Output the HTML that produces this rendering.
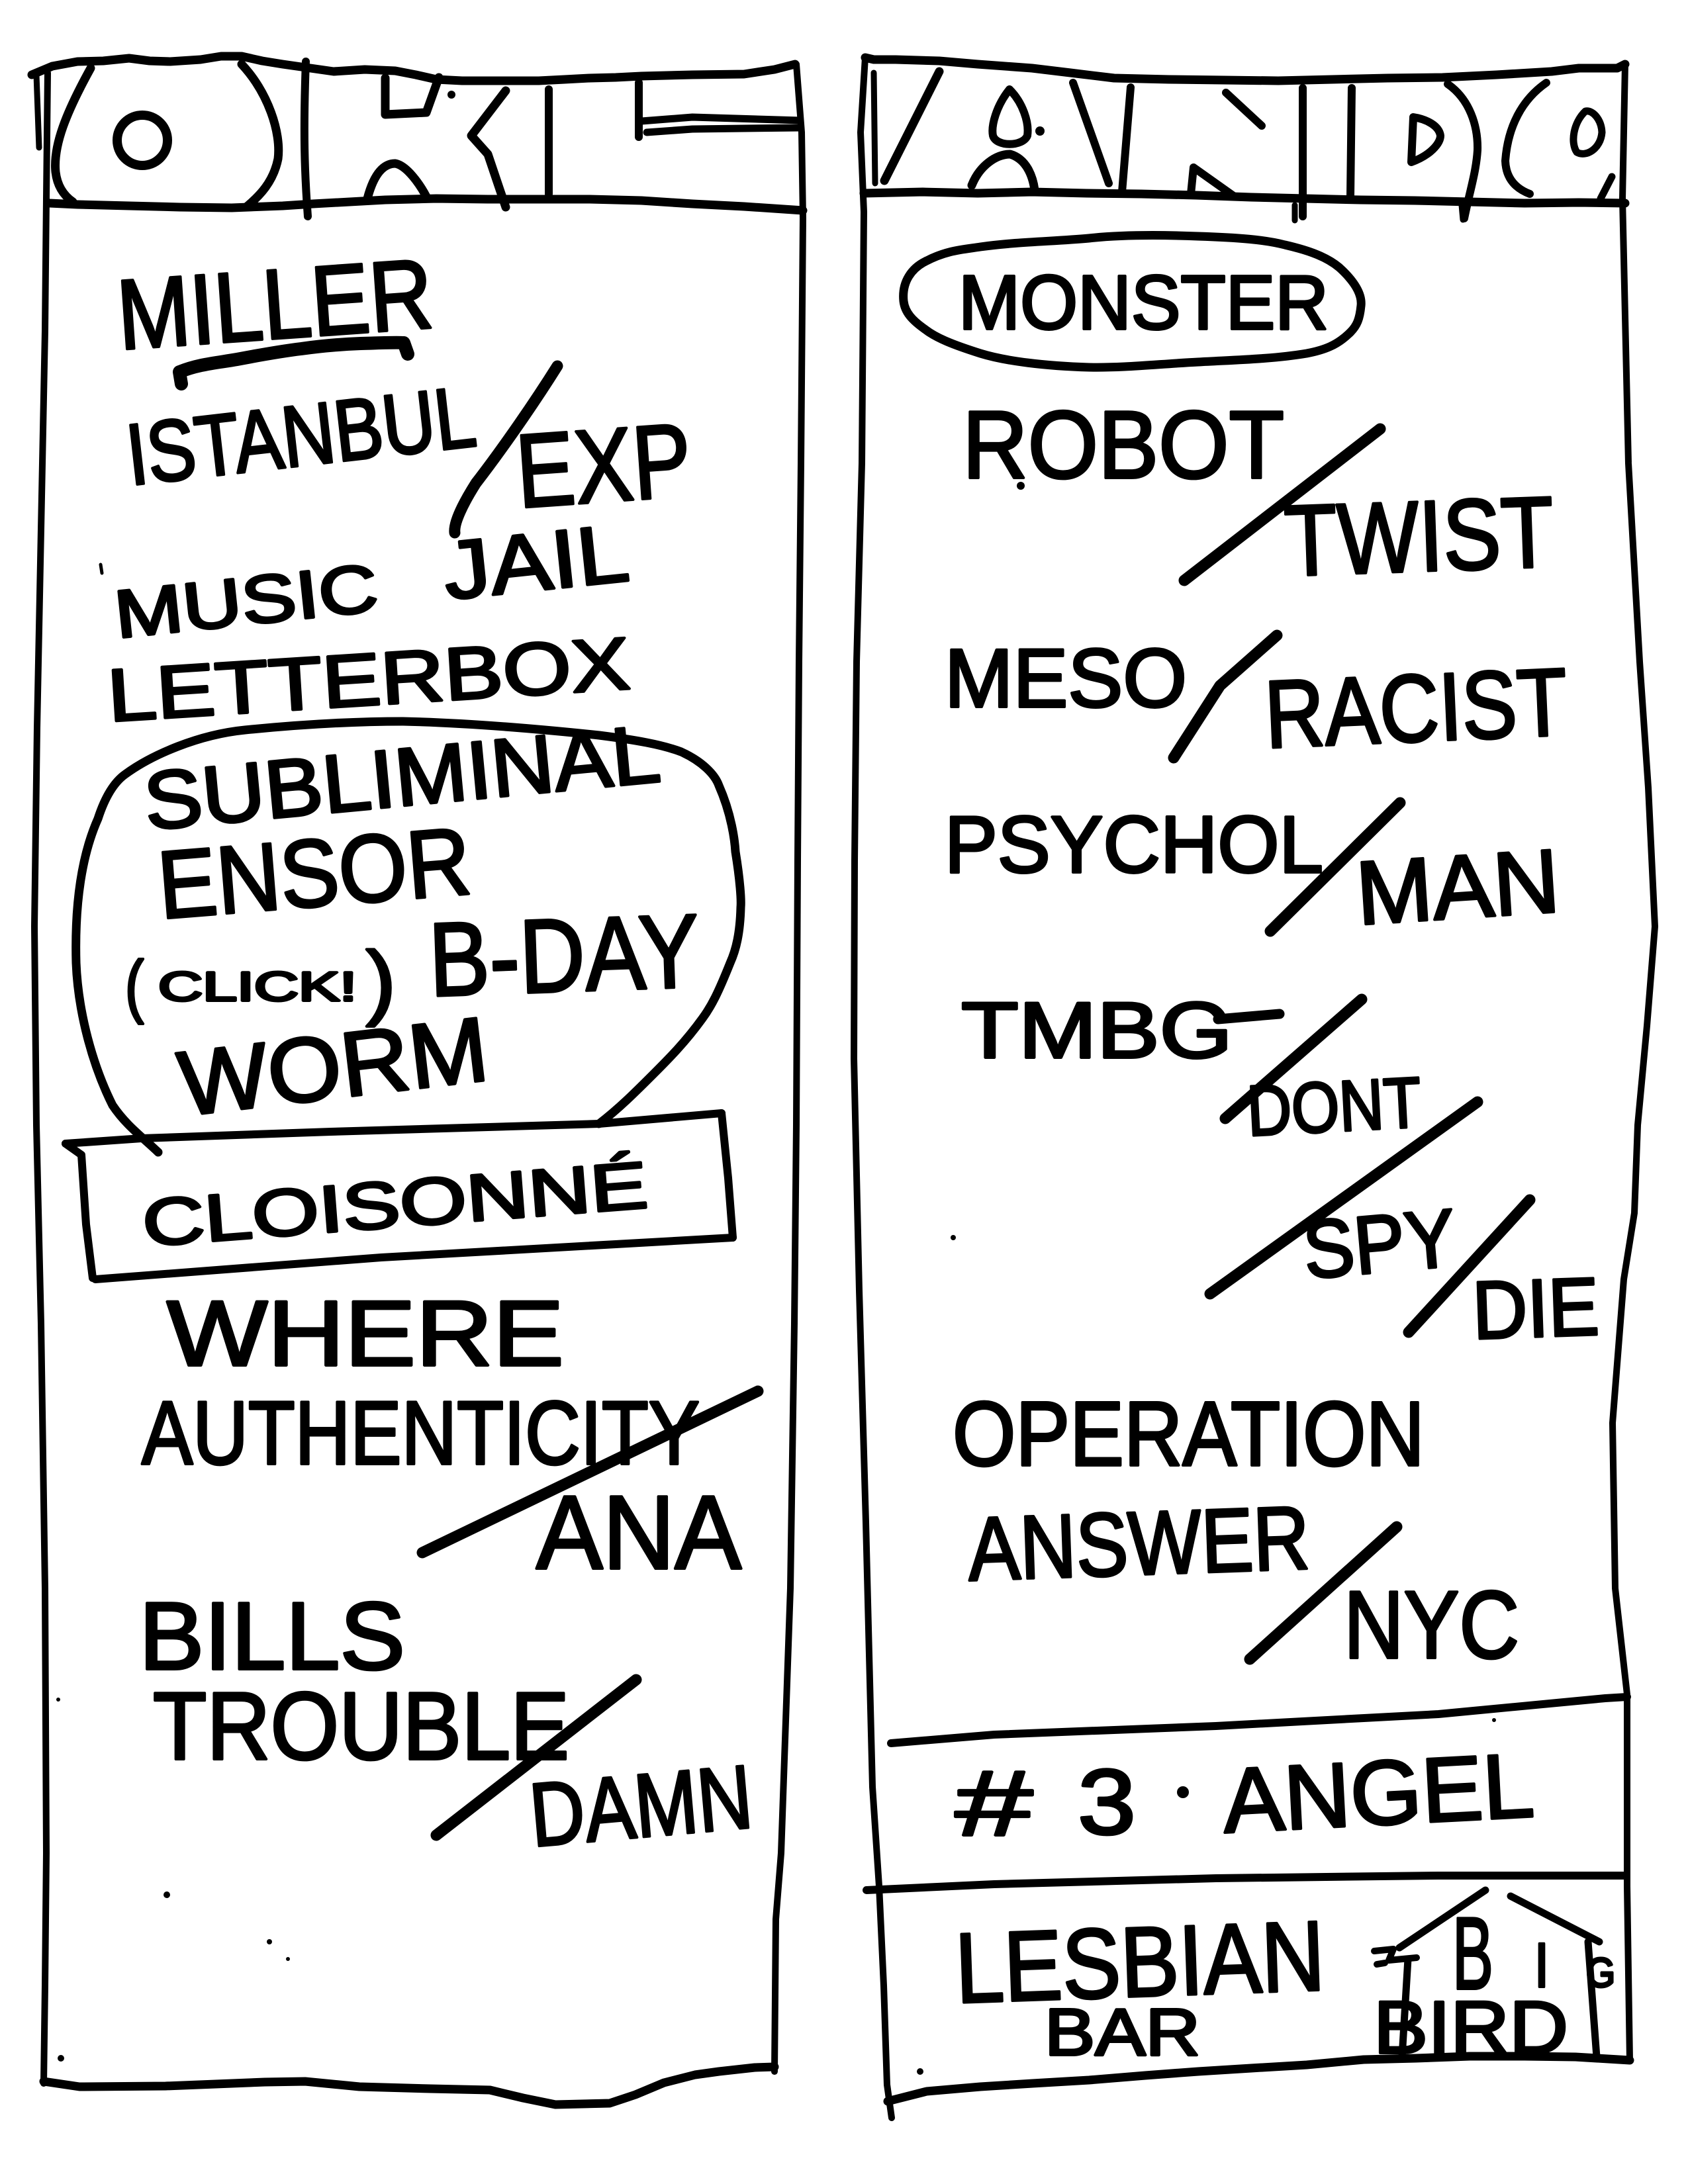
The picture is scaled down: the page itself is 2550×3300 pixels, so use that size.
<!DOCTYPE html>
<html>
<head>
<meta charset="utf-8">
<style>
html,body{margin:0;padding:0;background:#fff;}
svg{display:block;}
</style>
</head>
<body>
<svg width="2550" height="3300" viewBox="0 0 2550 3300" xmlns="http://www.w3.org/2000/svg">
<rect width="2550" height="3300" fill="#fff"/>

<!-- ============ STRUCTURE LINES ============ -->
<g fill="none" stroke="#000" stroke-linecap="round" stroke-linejoin="round">
  <!-- LEFT COLUMN -->
  <polyline stroke-width="13" points="48,113 79,100 117,93 156,92 195,88 226,92 257,93 303,90 334,85 365,85 396,92 427,97 462,102 504,108 551,105 597,107 628,113 659,120 698,122 737,122 814,122 853,120 891,118 930,117 969,115 1046,113 1124,112 1170,105 1201,97"/>
  <polyline stroke-width="10" points="72,110 70,300 68,500 62,800 56,1100 52,1400 55,1700 62,2000 68,2400 70,2800 68,3000 66,3148"/>
  <line x1="55" y1="113" x2="59" y2="223" stroke-width="9"/>
  <polyline stroke-width="10" points="1203,97 1211,200 1213,330 1210,700 1207,1000 1205,1300 1203,1700 1200,2000 1194,2400 1180,2800 1172,2900 1170,3130"/>
  <polyline stroke-width="13" points="75,307 117,309 195,311 272,313 350,314 427,311 473,308 582,302 659,300 737,301 814,301 891,301 969,303 1046,308 1124,312 1213,318"/>
  <!-- bottom line -->
  <polyline stroke-width="13" points="66,3145 120,3153 250,3152 400,3146 461,3145 543,3153 650,3156 740,3158 790,3170 839,3180 921,3178 960,3165 1003,3147 1050,3135 1086,3130 1140,3124 1170,3123"/>

  <!-- header letters left (ORL) -->
  <path stroke-width="13" d="M137,103 C100,170 80,220 84,260 C87,285 100,298 110,305"/>
  <ellipse cx="215" cy="212" rx="38" ry="38" stroke-width="14"/>
  <path stroke-width="13" d="M365,97 C405,140 425,200 420,240 C413,275 392,296 373,312"/>
  <path stroke-width="12" d="M462,93 C458,200 460,260 465,327"/>
  <path stroke-width="13" d="M582,118 L582,173 L644,170 L663,117"/>
  <path stroke-width="13" d="M555,300 C565,262 580,247 597,247 C615,250 635,280 644,297"/>
  <path stroke-width="13" d="M764,137 L712,205 L737,233 L764,313"/>
  <path stroke-width="12" d="M829,135 L829,293"/>
  <path stroke-width="12" d="M965,125 L965,207"/>
  <path stroke-width="11" d="M969,183 L1046,177 L1209,182"/>
  <path stroke-width="11" d="M977,200 L1046,195 L1209,193"/>

  <!-- RIGHT COLUMN -->
  <polyline stroke-width="13" points="1307,87 1320,90 1353,90 1419,92 1477,97 1559,103 1617,110 1683,118 1766,120 1848,121 1931,122 2013,120 2096,118 2179,117 2261,113 2344,108 2385,103 2443,103 2455,97"/>
  <polyline stroke-width="10" points="1307,87 1300,200 1305,320 1302,700 1294,1000 1291,1300 1290,1600 1298,1950 1308,2300 1318,2700 1328,2850 1335,3000 1340,3150 1347,3200"/>
  <line x1="1320" y1="110" x2="1322" y2="277" stroke-width="9"/>
  <polyline stroke-width="10" points="2455,97 2451,300 2460,700 2477,1000 2490,1190 2500,1400 2488,1550 2474,1700 2469,1833 2453,1933 2436,2150 2440,2400 2458,2560 2458,2850 2462,3113"/>
  <polyline stroke-width="13" points="1305,292 1394,290 1477,292 1559,290 1642,292 1724,293 1807,295 1890,298 1972,300 2055,302 2137,303 2220,305 2303,307 2385,306 2455,307"/>
  <line x1="1956" y1="310" x2="1956" y2="333" stroke-width="9"/>
  <line x1="2208" y1="310" x2="2210" y2="332" stroke-width="9"/>

  <!-- header letters right (ANDO) -->
  <path stroke-width="13" d="M1419,108 L1336,273"/>
  <path stroke-width="12" d="M1525,135 C1505,160 1497,190 1500,205 C1505,222 1545,222 1552,205 C1555,185 1545,155 1525,135 Z"/>
  <path stroke-width="13" d="M1468,280 C1480,250 1505,233 1526,233 C1550,240 1560,265 1563,287"/>
  <path stroke-width="12" d="M1621,125 L1675,277"/>
  <path stroke-width="12" d="M1708,132 L1695,290"/>
  <path stroke-width="12" d="M1852,140 L1906,190"/>
  <path stroke-width="12" d="M1803,253 L1799,293 M1803,253 L1865,297"/>
  <path stroke-width="12" d="M1968,133 L1968,327"/>
  <path stroke-width="12" d="M2042,133 L2040,297"/>
  <path stroke-width="12" d="M2135,177 L2132,245 C2160,235 2176,217 2176,205 C2174,190 2155,180 2135,177 Z"/>
  <path stroke-width="12" d="M2187,127 C2220,150 2233,190 2232,227 C2230,260 2220,290 2212,330"/>
  <path stroke-width="12" d="M2336,125 C2300,150 2278,190 2274,243 C2275,270 2290,285 2311,293"/>
  <path stroke-width="11" d="M2395,168 C2377,185 2372,215 2382,230 C2396,238 2418,225 2420,200 C2419,180 2406,166 2395,168 Z"/>
  <path stroke-width="11" d="M2435,267 L2418,300"/>

  <!-- MONSTER oval -->
  <path stroke-width="13" d="M1365,455 C1362,425 1378,405 1398,395 C1430,378 1455,377 1481,373 C1540,365 1590,365 1645,360 C1700,354 1760,355 1810,357 C1870,359 1910,362 1941,370 C1980,379 2005,389 2023,404 C2045,424 2058,444 2056,462 C2054,482 2050,492 2040,502 C2020,522 2000,529 1974,534 C1920,543 1860,544 1810,547 C1750,550 1700,556 1645,555 C1580,553 1520,546 1481,534 C1440,521 1415,511 1398,498 C1378,484 1367,472 1365,455 Z"/>

  <!-- Dividers & bottom right -->
  <polyline stroke-width="12" points="1346,2634 1502,2621 1837,2608 2173,2590 2425,2566 2458,2564"/>
  <polyline stroke-width="12" points="1309,2856 1502,2847 1837,2838 2173,2834 2455,2834"/>
  <polyline stroke-width="13" points="1341,3175 1400,3160 1481,3153 1560,3148 1645,3143 1730,3136 1810,3130 1890,3125 1974,3120 2060,3112 2139,3110 2220,3107 2303,3107 2380,3108 2462,3113"/>
  <!-- house -->
  <path stroke-width="11" d="M2244,2856 L2114,2943"/>
  <path stroke-width="11" d="M2282,2865 L2416,2934"/>
  <path stroke-width="11" d="M2127,2960 L2118,3108"/>
  <path stroke-width="11" d="M2399,2934 L2412,3108"/>
  <path stroke-width="10" d="M2076,2948 L2105,2945 L2098,2962 L2140,2958 M2080,2968 L2092,2966"/>

  <!-- Blob around SUBLIMINAL..WORM -->
  <path stroke-width="13" d="M239,1741 C215,1718 190,1700 170,1670 C140,1610 118,1530 115,1455 C113,1380 120,1300 148,1237 C160,1200 175,1180 189,1170 C230,1140 300,1110 370,1103 C450,1095 530,1090 609,1090 C700,1092 800,1100 905,1111 C960,1118 1000,1125 1029,1136 C1060,1150 1080,1170 1086,1187 C1105,1230 1110,1270 1111,1287 C1118,1330 1120,1360 1119,1371 C1118,1410 1112,1435 1103,1455 C1085,1500 1075,1520 1061,1539 C1035,1575 1010,1600 987,1623 C960,1650 935,1675 905,1698"/>
  <!-- CLOISONNE box -->
  <path stroke-width="12" d="M99,1728 L214,1720 L500,1710 L905,1698 L1090,1682"/>
  <path stroke-width="12" d="M1090,1682 L1100,1780 L1107,1870"/>
  <path stroke-width="12" d="M1107,1870 L576,1900 L144,1933"/>
  <path stroke-width="12" d="M99,1728 L123,1745 L130,1850 L140,1931"/>

  <!-- MILLER underline -->
  <path stroke-width="20" d="M274,580 L271,562 C300,550 330,548 358,543 C400,535 430,530 455,527 C490,522 519,520 545,519 C580,518 600,517 610,518 L616,535"/>

  <!-- slashes left -->
  <path stroke-width="17" d="M842,553 C800,620 750,690 719,730 C700,760 685,790 687,805"/>
  <line stroke-width="17" x1="638" y1="2346" x2="1145" y2="2102"/>
  <line stroke-width="17" x1="659" y1="2773" x2="961" y2="2538"/>
  <line stroke-width="5" x1="152" y1="853" x2="154" y2="866"/>

  <!-- slashes right -->
  <line stroke-width="17" x1="2085" y1="648" x2="1789" y2="877"/>
  <polyline stroke-width="17" points="1929,960 1843,1036 1773,1145"/>
  <line stroke-width="17" x1="2115" y1="1213" x2="1919" y2="1407"/>
  <line stroke-width="17" x1="2057" y1="1510" x2="1851" y2="1690"/>
  <line stroke-width="17" x1="2232" y1="1665" x2="1828" y2="1955"/>
  <line stroke-width="17" x1="2311" y1="1813" x2="2128" y2="2013"/>
  <line stroke-width="17" x1="2110" y1="2307" x2="1888" y2="2507"/>
  <!-- TMBG G tail -->
  <path stroke-width="15" d="M1840,1540 L1933,1532"/>
</g>

<!-- specks & dots -->
<g fill="#000">
  <circle cx="682" cy="143" r="6"/>
  <circle cx="1571" cy="198" r="7"/>
  <circle cx="1542" cy="734" r="6"/>
  <circle cx="1440" cy="1870" r="4"/>
  <circle cx="1787" cy="2708" r="9"/>
  <circle cx="252" cy="2863" r="5"/>
  <circle cx="407" cy="2934" r="4"/>
  <circle cx="435" cy="2960" r="3"/>
  <circle cx="92" cy="3110" r="5"/>
  <circle cx="88" cy="2568" r="3"/>
  <circle cx="1390" cy="3130" r="5"/>
  <circle cx="2257" cy="2599" r="3"/>
</g>

<!-- ============ TEXT ============ -->
<g font-family="'Liberation Sans', sans-serif" fill="#000" stroke="#000" stroke-width="4" stroke-linejoin="round">
  <!-- LEFT -->
  <text x="181" y="528" font-size="150" textLength="477" lengthAdjust="spacingAndGlyphs" transform="rotate(-4 181 528)">MILLER</text>
  <text x="197" y="733" font-size="131" textLength="529" lengthAdjust="spacingAndGlyphs" transform="rotate(-6.5 197 733)">ISTANBUL</text>
  <text x="784" y="767" font-size="158" textLength="264" lengthAdjust="spacingAndGlyphs" transform="rotate(-4 784 767)">EXP</text>
  <text x="177" y="964" font-size="102" textLength="399" lengthAdjust="spacingAndGlyphs" transform="rotate(-6 177 964)">MUSIC</text>
  <text x="675" y="906" font-size="124" textLength="280" lengthAdjust="spacingAndGlyphs" transform="rotate(-6 675 906)">JAIL</text>
  <text x="165" y="1090" font-size="112" textLength="790" lengthAdjust="spacingAndGlyphs" transform="rotate(-3.6 165 1090)">LETTERBOX</text>
  <text x="222" y="1254" font-size="124" textLength="782" lengthAdjust="spacingAndGlyphs" transform="rotate(-5.4 222 1254)">SUBLIMINAL</text>
  <text x="243" y="1388" font-size="145" textLength="473" lengthAdjust="spacingAndGlyphs" transform="rotate(-4.6 243 1388)">ENSOR</text>
  <text x="189" y="1525" font-size="105" textLength="28" lengthAdjust="spacingAndGlyphs">(</text>
  <text x="239" y="1512" font-size="62" textLength="300" lengthAdjust="spacingAndGlyphs">CLICK!</text>
  <text x="553" y="1525" font-size="125" textLength="45" lengthAdjust="spacingAndGlyphs">)</text>
  <text x="650" y="1505" font-size="158" textLength="408" lengthAdjust="spacingAndGlyphs" transform="rotate(-2 650 1505)">B-DAY</text>
  <text x="276" y="1686" font-size="138" textLength="469" lengthAdjust="spacingAndGlyphs" transform="rotate(-6.7 276 1686)">WORM</text>
  <text x="218" y="1883" font-size="100" textLength="765" lengthAdjust="spacingAndGlyphs" transform="rotate(-4.4 218 1883)">CLOISONNÉ</text>
  <text x="252" y="2063" font-size="140" textLength="600" lengthAdjust="spacingAndGlyphs">WHERE</text>
  <text x="214" y="2212" font-size="136" textLength="843" lengthAdjust="spacingAndGlyphs">AUTHENTICITY</text>
  <text x="810" y="2370" font-size="158" textLength="310" lengthAdjust="spacingAndGlyphs">ANA</text>
  <text x="210" y="2522" font-size="145" textLength="402" lengthAdjust="spacingAndGlyphs">BILLS</text>
  <text x="231" y="2658" font-size="145" textLength="629" lengthAdjust="spacingAndGlyphs">TROUBLE</text>
  <text x="805" y="2790" font-size="136" textLength="336" lengthAdjust="spacingAndGlyphs" transform="rotate(-5 805 2790)">DAMN</text>

  <!-- RIGHT -->
  <text x="1448" y="497" font-size="116" textLength="559" lengthAdjust="spacingAndGlyphs">MONSTER</text>
  <text x="1454" y="722" font-size="145" textLength="486" lengthAdjust="spacingAndGlyphs">ROBOT</text>
  <text x="1942" y="870" font-size="152" textLength="407" lengthAdjust="spacingAndGlyphs" transform="rotate(-2 1942 870)">TWIST</text>
  <text x="1427" y="1068" font-size="125" textLength="366" lengthAdjust="spacingAndGlyphs">MESO</text>
  <text x="1913" y="1130" font-size="145" textLength="457" lengthAdjust="spacingAndGlyphs" transform="rotate(-2.5 1913 1130)">RACIST</text>
  <text x="1427" y="1318" font-size="122" textLength="572" lengthAdjust="spacingAndGlyphs">PSYCHOL</text>
  <text x="2052" y="1397" font-size="136" textLength="307" lengthAdjust="spacingAndGlyphs" transform="rotate(-3.7 2052 1397)">MAN</text>
  <text x="1452" y="1598" font-size="120" textLength="410" lengthAdjust="spacingAndGlyphs">TMBG</text>
  <text x="1886" y="1716" font-size="108" textLength="263" lengthAdjust="spacingAndGlyphs" transform="rotate(-3 1886 1716)">DONT</text>
  <text x="1973" y="1932" font-size="124" textLength="230" lengthAdjust="spacingAndGlyphs" transform="rotate(-5 1973 1932)">SPY</text>
  <text x="2226" y="2023" font-size="124" textLength="191" lengthAdjust="spacingAndGlyphs" transform="rotate(-2 2226 2023)">DIE</text>
  <text x="1439" y="2214" font-size="138" textLength="713" lengthAdjust="spacingAndGlyphs">OPERATION</text>
  <text x="1464" y="2388" font-size="136" textLength="516" lengthAdjust="spacingAndGlyphs" transform="rotate(-2 1464 2388)">ANSWER</text>
  <text x="2030" y="2505" font-size="145" textLength="265" lengthAdjust="spacingAndGlyphs">NYC</text>
  <text x="1443" y="2773" font-size="140" textLength="117" lengthAdjust="spacingAndGlyphs">#</text>
  <text x="1628" y="2771" font-size="140" textLength="88" lengthAdjust="spacingAndGlyphs">3</text>
  <text x="1850" y="2769" font-size="138" textLength="470" lengthAdjust="spacingAndGlyphs" transform="rotate(-3 1850 2769)">ANGEL</text>
  <text x="1445" y="3026" font-size="150" textLength="558" lengthAdjust="spacingAndGlyphs" transform="rotate(-2 1445 3026)">LESBIAN</text>
  <text x="1578" y="3105" font-size="100" textLength="235" lengthAdjust="spacingAndGlyphs">BAR</text>
  <text x="2194" y="3005" font-size="155" textLength="62" lengthAdjust="spacingAndGlyphs">B</text>
  <text x="2318" y="3002" font-size="95" textLength="22" lengthAdjust="spacingAndGlyphs">I</text>
  <text x="2396" y="3002" font-size="62" textLength="44" lengthAdjust="spacingAndGlyphs">G</text>
  <text x="2075" y="3102" font-size="112" textLength="294" lengthAdjust="spacingAndGlyphs">BIRD</text>
</g>
</svg>
</body>
</html>
